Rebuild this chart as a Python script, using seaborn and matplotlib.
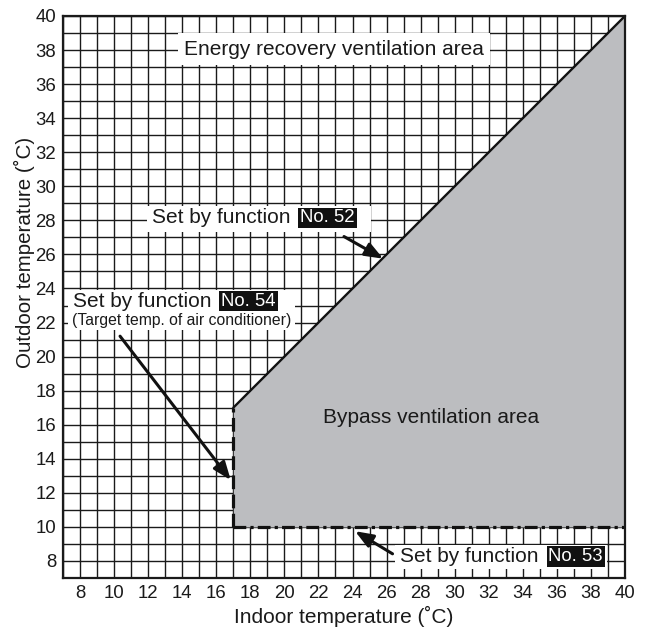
import matplotlib
matplotlib.use("Agg")
import matplotlib.pyplot as plt
from matplotlib.patches import Rectangle
import numpy as np
import pandas as pd
import seaborn as sns

# Switching boundaries (degrees C)
indoor_min = 17          # function No. 54: target temp. of air conditioner
outdoor_min = 10         # function No. 53: lower outdoor limit
boundary_indoor = [17, 40]   # function No. 52 boundary line
boundary_outdoor = [17, 40]

axis_min, axis_max = 7, 40
tick_values = list(range(8, 41, 2))
tick_labels = [str(v) for v in tick_values]

sns.set_theme(style="white")
plt.rcParams["font.family"] = ["Liberation Sans", "DejaVu Sans"]

INK = "#1a1a1a"
fig = plt.figure(figsize=(6.54, 6.28), dpi=100)
ax = fig.add_axes([63 / 654, 1 - 578 / 628, (625 - 63) / 654, (578 - 16) / 628])

ax.set_xlim(axis_min, axis_max)
ax.set_ylim(axis_min, axis_max)
ax.set_xticks(tick_values)
ax.set_xticklabels(tick_labels)
ax.set_yticks(tick_values)
ax.set_yticklabels(tick_labels)
ax.set_xticks(np.arange(axis_min, axis_max + 1, 1), minor=True)
ax.set_yticks(np.arange(axis_min, axis_max + 1, 1), minor=True)
ax.grid(which="both", color=INK, linewidth=1.0, zorder=0)
ax.set_axisbelow(True)
ax.tick_params(which="both", length=0, labelsize=13.4, colors=INK, pad=5)
for s in ax.spines.values():
    s.set_color(INK)
    s.set_linewidth(1.6)
    s.set_zorder(6)

ax.set_xlabel("Indoor temperature (˚C)", fontsize=15, color=INK, labelpad=3)
ax.set_ylabel("Outdoor temperature (˚C)", fontsize=14.8, color=INK)
ax.yaxis.set_label_coords(-0.05, 0.58)

# Bypass ventilation region
ax.fill_between(boundary_indoor, [outdoor_min] * 2, boundary_outdoor,
                color="#bcbdc0", linewidth=0, zorder=1)

# Boundary lines
bdf = pd.DataFrame({"indoor": boundary_indoor, "outdoor": boundary_outdoor})
sns.lineplot(data=bdf, x="indoor", y="outdoor", color="#111111", linewidth=1.7, ax=ax, zorder=4)
ax.plot([indoor_min, indoor_min], [outdoor_min, boundary_outdoor[0]], color="#111111",
        linewidth=2.3, dashes=(4.3, 1.7), zorder=4)
ax.plot([indoor_min, axis_max], [outdoor_min, outdoor_min], color="#111111",
        linewidth=2.3, dashes=(4.0, 1.3, 1.0, 1.3), zorder=4)

FS = 15
txt_kw = dict(fontsize=FS, color=INK, zorder=5)

ax.text(22.9, 38.06, "Energy recovery ventilation area", ha="center", va="center",
        bbox=dict(boxstyle="square,pad=0.3", facecolor="white", edgecolor="none"), **txt_kw)
ax.text(28.6, 16.45, "Bypass ventilation area", ha="center", va="center", **txt_kw)


def labelled(x, y, num):
    t1 = ax.text(x, y, "Set by function", ha="left", va="center", **txt_kw)
    t2 = ax.annotate(num, xy=(1, 0.5), xycoords=t1, xytext=(7, 0), textcoords="offset points",
                     ha="left", va="center", fontsize=13.4, color="white", zorder=5,
                     bbox=dict(boxstyle="square,pad=0.1", facecolor="#111111", edgecolor="none"))
    return t1, t2


def add_backing(artists, pads):
    fig.canvas.draw()
    r = fig.canvas.get_renderer()
    bbs = [a.get_window_extent(r) for a in artists]
    x0 = min(b.x0 for b in bbs) - pads[0]
    x1 = max(b.x1 for b in bbs) + pads[2]
    y0 = min(b.y0 for b in bbs) - pads[3]
    y1 = max(b.y1 for b in bbs) + pads[1]
    inv = ax.transData.inverted()
    (dx0, dy0), (dx1, dy1) = inv.transform([(x0, y0), (x1, y1)])
    ax.add_patch(Rectangle((dx0, dy0), dx1 - dx0, dy1 - dy0, facecolor="white",
                           edgecolor="none", zorder=2))


arrow = dict(arrowstyle="-|>,head_length=0.9,head_width=0.35", color="#111111",
             lw=2.2, shrinkA=0, shrinkB=0)

# No. 52
a52 = labelled(12.23, 28.14, "No. 52")
add_backing(a52, (5, 2, 16, 5))
ax.annotate("", xy=(25.8, 25.75), xytext=(23.5, 27.05), arrowprops=arrow, zorder=5)

# No. 54
a54 = labelled(7.59, 23.26, "No. 54")
sub = ax.text(7.53, 22.1, "(Target temp. of air conditioner)", ha="left", va="center",
              fontsize=11.3, color=INK, zorder=5)
add_backing(list(a54) + [sub], (4, 2, 4, 2))
ax.annotate("", xy=(16.85, 12.75), xytext=(10.35, 21.2), arrowprops=arrow, zorder=5)

# No. 53
a53 = labelled(26.8, 8.25, "No. 53")
add_backing(a53, (5, 2, 4, 3))
ax.annotate("", xy=(24.15, 9.75), xytext=(26.35, 8.42), arrowprops=arrow, zorder=5)

fig.savefig("out.png", dpi=100, facecolor="white")
